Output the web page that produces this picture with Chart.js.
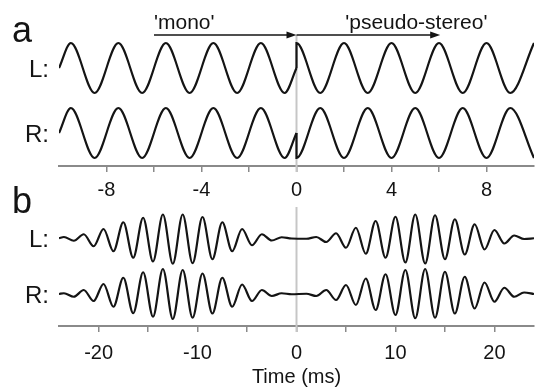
<!DOCTYPE html>
<html>
<head>
<meta charset="utf-8">
<script src="https://cdn.jsdelivr.net/npm/chart.js@4"></script>
<style>
  html, body { margin: 0; padding: 0; background: #fff; }
  #wrap { position: relative; width: 537px; height: 390px; overflow: hidden; }
  canvas { position: absolute; left: 0; }
  #panel-a { top: 0; }
  #panel-b { top: 180px; }
</style>
</head>
<body>
<div id="wrap">
  <canvas id="panel-a" width="537" height="202"></canvas>
  <canvas id="panel-b" width="537" height="210"></canvas>
</div>
<script>
const FONT = "'Liberation Sans', Arial, Helvetica, sans-serif"
const INK = '#141414'
const AXIS = '#8a8a8a'
const ZERO_LINE = '#c6c6c6'

// panel a: steady tone, extrema (time in ms, amplitude)
const aTimesPre = [-10, -9.5, -8.5, -7.5, -6.5, -5.5, -4.5, -3.5, -2.5, -1.5, -0.5, 0]
const aLeftPre = [0, 1, -1, 1, -1, 1, -1, 1, -1, 1, -1, 0]
const aRightPre = [0, 1, -1, 1, -1, 1, -1, 1, -1, 1, -1, 0]
const aTimesPost = [0, 1, 2, 3, 4, 5, 6, 7, 8, 9, 10]
const aLeftPost = [1, -1, 1, -1, 1, -1, 1, -1, 1, -1, 1]
const aRightPost = [-1, 1, -1, 1, -1, 1, -1, 1, -1, 1, -1]
const aTicks = [-8, -6, -4, -2, 0, 2, 4, 6, 8]
const aTickLabels = ['-8', '', '-4', '', '0', '', '4', '', '8']

// panel b: tone bursts, extrema
const bTimes = [
  -24, -23.5, -22.5, -21.5, -20.5, -19.5, -18.5, -17.5, -16.5, -15.5, -14.5, -13.5, -12.5,
  -11.5, -10.5, -9.5, -8.5, -7.5, -6.5, -5.5, -4.5, -3.5, -2.5, -1.5, -0.5,
  1, 2, 3, 4, 5, 6, 7, 8, 9, 10, 11, 12, 13, 14, 15, 16, 17, 18, 19, 20, 21, 22, 23, 24,
]
const bLeft = [
  0, 0.05, -0.1, 0.16, -0.32, 0.37, -0.52, 0.64, -0.78, 0.82, -0.93, 0.95, -1.02,
  0.95, -1.0, 0.85, -0.84, 0.64, -0.52, 0.37, -0.28, 0.16, -0.09, 0.04, -0.01,
  -0.02, 0.05, -0.15, 0.2, -0.38, 0.42, -0.62, 0.69, -0.78, 0.86, -0.97, 0.95, -1.01, 0.92,
  -0.84, 0.76, -0.65, 0.56, -0.45, 0.33, -0.21, 0.11, -0.03, 0,
]
const bRight = [
  0, 0.03, -0.11, 0.16, -0.28, 0.4, -0.51, 0.65, -0.77, 0.87, -0.91, 1.0, -1.0,
  0.96, -0.95, 0.82, -0.78, 0.65, -0.51, 0.38, -0.28, 0.16, -0.08, 0.03, -0.01,
  0.01, -0.08, 0.16, -0.24, 0.36, -0.44, 0.62, -0.64, 0.79, -0.84, 0.96, -0.97, 1.0, -0.95,
  0.89, -0.78, 0.69, -0.58, 0.46, -0.31, 0.25, -0.11, 0.06, 0,
]
const bTicks = [-20, -15, -10, -5, 0, 5, 10, 15, 20]
const bTickLabels = ['-20', '', '-10', '', '0', '', '10', '', '20']

// vertical offsets of the two traces, in amplitude units
const A_LEFT = 2.6
const B_LEFT = 2.23

function toPoints(times, values, offset) {
  return times.map((t, i) => ({ x: t, y: values[i] + offset }))
}

function trace(points) {
  return {
    data: points,
    borderColor: INK,
    borderWidth: 2.2,
    pointRadius: 0,
    pointHoverRadius: 0,
    fill: false,
    cubicInterpolationMode: 'monotone',
  }
}

function drawText(ctx, text, x, y, size, align) {
  ctx.save()
  ctx.font = `${size}px ${FONT}`
  ctx.fillStyle = INK
  ctx.textAlign = align
  ctx.textBaseline = 'alphabetic'
  ctx.fillText(text, x, y)
  ctx.restore()
}

function drawArrow(ctx, x0, x1, y) {
  ctx.save()
  ctx.strokeStyle = INK
  ctx.fillStyle = INK
  ctx.lineWidth = 1.5
  ctx.beginPath()
  ctx.moveTo(x0, y)
  ctx.lineTo(x1 - 6, y)
  ctx.stroke()
  ctx.beginPath()
  ctx.moveTo(x1, y)
  ctx.lineTo(x1 - 10, y - 3.5)
  ctx.lineTo(x1 - 10, y + 3.5)
  ctx.closePath()
  ctx.fill()
  ctx.restore()
}

function drawZeroLine(chart) {
  const { ctx, chartArea, scales } = chart
  const x = scales.x.getPixelForValue(0)
  ctx.save()
  ctx.strokeStyle = ZERO_LINE
  ctx.lineWidth = 2
  ctx.beginPath()
  ctx.moveTo(x, chartArea.top)
  ctx.lineTo(x, chartArea.bottom + 6)
  ctx.stroke()
  ctx.restore()
}

function channelLabels(chart, leftOffset) {
  const y = chart.scales.y
  drawText(chart.ctx, 'L:', 49, y.getPixelForValue(leftOffset) + 8.5, 24, 'right')
  drawText(chart.ctx, 'R:', 49, y.getPixelForValue(0) + 8.5, 24, 'right')
}

const panelAPlugin = {
  id: 'panelA',
  beforeDatasetsDraw: (chart) => drawZeroLine(chart),
  afterDraw: (chart) => {
    const { ctx, chartArea, scales } = chart
    const x = scales.x
    const top = chartArea.top
    drawArrow(ctx, x.getPixelForValue(-6), x.getPixelForValue(0), top)
    drawArrow(ctx, x.getPixelForValue(0), x.getPixelForValue(6.05), top)
    drawText(ctx, "'mono'", x.getPixelForValue(-6), top - 6, 21, 'left')
    drawText(ctx, "'pseudo-stereo'", x.getPixelForValue(2.05), top - 6, 21, 'left')
    drawText(ctx, 'a', 12, 42, 36, 'left')
    channelLabels(chart, A_LEFT)
  },
}

const panelBPlugin = {
  id: 'panelB',
  beforeDatasetsDraw: (chart) => drawZeroLine(chart),
  afterDraw: (chart) => {
    drawText(chart.ctx, 'b', 12, 33, 36, 'left')
    channelLabels(chart, B_LEFT)
  },
}

function xAxis(min, max, ticks, labels, padding, height) {
  return {
    type: 'linear',
    min,
    max,
    afterBuildTicks: (scale) => {
      scale.ticks = ticks.map((value) => ({ value }))
    },
    afterFit: (scale) => {
      scale.height = height
    },
    ticks: {
      autoSkip: false,
      maxRotation: 0,
      padding,
      color: INK,
      font: { family: FONT, size: 20 },
      callback: (value, index) => labels[index],
    },
    grid: { drawOnChartArea: false, tickLength: 6, color: AXIS, lineWidth: 1.5 },
    border: { color: AXIS, width: 2 },
  }
}

const baseOptions = {
  responsive: false,
  animation: false,
  events: [],
  plugins: { legend: { display: false }, tooltip: { enabled: false } },
}

new Chart(document.getElementById('panel-a'), {
  type: 'line',
  data: {
    datasets: [
      trace(toPoints(aTimesPre, aLeftPre, A_LEFT)),
      trace([{ x: 0, y: aLeftPre.at(-1) + A_LEFT }, ...toPoints(aTimesPost, aLeftPost, A_LEFT)]),
      trace(toPoints(aTimesPre, aRightPre, 0)),
      trace([{ x: 0, y: aRightPre.at(-1) }, ...toPoints(aTimesPost, aRightPost, 0)]),
    ],
  },
  options: {
    ...baseOptions,
    layout: { autoPadding: false, padding: { top: 35, left: 59, right: 3, bottom: 0 } },
    scales: {
      x: xAxis(-10, 10, aTicks, aTickLabels, 6, 36),
      y: { display: false, min: -1.32, max: 3.92 },
    },
  },
  plugins: [panelAPlugin],
})

const bX = xAxis(-24, 24, bTicks, bTickLabels, 9, 63)
bX.title = {
  display: true,
  text: 'Time (ms)',
  color: INK,
  font: { family: FONT, size: 20 },
  padding: { top: 0, bottom: 0 },
}

new Chart(document.getElementById('panel-b'), {
  type: 'line',
  data: {
    datasets: [
      trace(toPoints(bTimes, bLeft, B_LEFT)),
      trace(toPoints(bTimes, bRight, 0)),
    ],
  },
  options: {
    ...baseOptions,
    layout: { autoPadding: false, padding: { top: 27, left: 59, right: 3, bottom: 1 } },
    scales: {
      x: bX,
      y: { display: false, min: -1.28, max: 3.48 },
    },
  },
  plugins: [panelBPlugin],
})
</script>
</body>
</html>
